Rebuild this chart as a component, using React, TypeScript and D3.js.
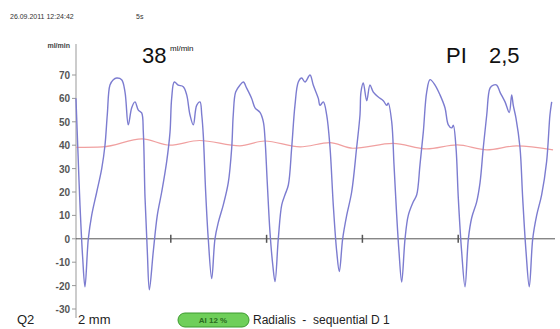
import React, { useEffect, useRef } from 'react';
import * as d3 from 'd3';

// flow velocity trace (time s, ml/min)
const flowT = [0.01, 0.03, 0.052, 0.08, 0.104, 0.139, 0.174, 0.227, 0.279, 0.313, 0.337, 0.365, 0.4, 0.435, 0.487, 0.522, 0.556, 0.592, 0.626, 0.661, 0.696, 0.713, 0.731, 0.755, 0.776, 0.817, 0.859, 0.905, 0.957, 0.992, 1.009, 1.037, 1.078, 1.13, 1.166, 1.2, 1.235, 1.27, 1.305, 1.323, 1.339, 1.364, 1.391, 1.427, 1.461, 1.496, 1.548, 1.6, 1.636, 1.652, 1.677, 1.722, 1.757, 1.792, 1.844, 1.879, 1.931, 1.966, 1.983, 2.007, 2.035, 2.064, 2.088, 2.122, 2.158, 2.192, 2.227, 2.262, 2.296, 2.331, 2.366, 2.401, 2.453, 2.487, 2.54, 2.557, 2.592, 2.627, 2.662, 2.696, 2.732, 2.759, 2.794, 2.836, 2.888, 2.94, 2.975, 2.985, 3.009, 3.045, 3.079, 3.114, 3.166, 3.218, 3.254, 3.27, 3.306, 3.33, 3.358, 3.382, 3.41, 3.445, 3.479, 3.531, 3.567, 3.601, 3.636, 3.671, 3.706, 3.758, 3.81, 3.862, 3.897, 3.932, 3.949, 3.977, 4.001, 4.036, 4.071, 4.106, 4.141, 4.193, 4.228, 4.262, 4.298, 4.332, 4.367, 4.402, 4.436, 4.489, 4.533, 4.558, 4.575, 4.603, 4.645, 4.673, 4.708, 4.742, 4.778, 4.819, 4.871, 4.923, 4.958, 4.976];
const flowV = [60, 38, 14.5, -8, -20.5, 0, 10, 20, 30, 40, 53, 65.7, 68, 68.7, 68, 62.7, 48.7, 56, 58.5, 55, 53.8, 45.7, 17.5, -5.5, -21.8, -5.5, 10, 20, 33, 45.7, 60, 67, 65.7, 65, 61.5, 53, 48.7, 57, 58.5, 53, 44.4, 20, 0, -17, 0, 7, 14.5, 24, 39, 53, 62.7, 65.7, 67, 64.4, 60, 56, 54, 50, 43, 24, 3, -11, -18.3, 0, 14.5, 18.8, 23, 39, 57, 67, 68.7, 67, 70, 65.7, 60, 57, 58.5, 53, 39, 14.5, -5.5, -14, 0, 10, 20, 39, 53, 62.7, 66.6, 59, 65.7, 62.7, 60.6, 59, 57, 58, 50, 31.6, 10, -5.5, -18.5, 0, 10, 15.8, 18.8, 31.6, 45.7, 62.7, 68, 65.7, 61.5, 56, 48.7, 47.4, 48.5, 39, 17.5, -5.5, -20.5, 0, 9, 15.8, 24, 39, 53, 64.4, 65.7, 65.7, 62.7, 58.5, 54, 61.5, 57, 51.6, 39, 17.5, -5.5, -20.5, 0, 10, 18.8, 33, 53, 58.5];

// mean velocity trace
const meanT = [0.01, 0.29, 0.7, 0.99, 1.3, 1.72, 1.98, 2.35, 2.66, 2.9, 3.32, 3.67, 3.99, 4.3, 4.61, 4.99];
const meanV = [39.1, 39.3, 42.7, 40, 42, 39.7, 41.8, 39.3, 41.1, 38.7, 40.8, 38.4, 40.1, 38, 39.7, 38];

const yTicks = [70, 60, 50, 40, 30, 20, 10, 0, -10, -20, -30];
const xTicks = [1, 2, 3, 4];

const App = () => {
  const svgRef = useRef<SVGSVGElement>(null);

  useEffect(() => {
    const svg = d3.select(svgRef.current);
    svg.selectAll('*').remove();
    const font = 'Liberation Sans, Arial, sans-serif';

    const x = d3.scaleLinear().domain([0, 5]).range([75, 554]);
    const y = d3.scaleLinear().domain([-30, 70]).range([309, 75]);

    // header
    svg.append('text').attr('x', 10).attr('y', 19).attr('font-size', 7).attr('fill', '#333')
      .attr('font-family', font).text('26.09.2011 12:24:42');
    svg.append('text').attr('x', 136).attr('y', 19).attr('font-size', 7).attr('fill', '#333')
      .attr('font-family', font).text('5s');

    svg.append('text').attr('x', 70).attr('y', 48).attr('text-anchor', 'end').attr('font-size', 7)
      .attr('font-weight', 'bold').attr('fill', '#444').attr('font-family', font).text('ml/min');

    svg.append('text').attr('x', 142).attr('y', 63).attr('font-size', 22).attr('fill', '#111')
      .attr('font-family', font).text('38');
    svg.append('text').attr('x', 170).attr('y', 51).attr('font-size', 8).attr('fill', '#111')
      .attr('font-family', font).text('ml/min');

    svg.append('text').attr('x', 446).attr('y', 63).attr('font-size', 22).attr('fill', '#111')
      .attr('font-family', font).text('PI');
    svg.append('text').attr('x', 489).attr('y', 63).attr('font-size', 22).attr('fill', '#111')
      .attr('font-family', font).text('2,5');

    // y axis
    svg.append('line').attr('x1', 76).attr('x2', 76).attr('y1', 44).attr('y2', 318)
      .attr('stroke', '#999').attr('stroke-width', 1);
    const yg = svg.append('g');
    yTicks.forEach(t => {
      yg.append('line').attr('x1', 72).attr('x2', 76).attr('y1', y(t)).attr('y2', y(t))
        .attr('stroke', '#999');
      yg.append('text').attr('x', 70).attr('y', y(t) + 4).attr('text-anchor', 'end')
        .attr('font-size', 10).attr('font-weight', 'bold').attr('fill', '#555')
        .attr('font-family', font).text(t);
    });

    // x axis (zero line)
    svg.append('line').attr('x1', 76).attr('x2', 555).attr('y1', y(0)).attr('y2', y(0))
      .attr('stroke', '#555').attr('stroke-width', 1);
    xTicks.forEach(t => {
      svg.append('line').attr('x1', x(t)).attr('x2', x(t)).attr('y1', y(0) - 4).attr('y2', y(0) + 4)
        .attr('stroke', '#555').attr('stroke-width', 1.5);
    });

    // mean line
    const meanLine = d3.line<number>().x((_, i) => x(meanT[i])).y(d => y(d)).curve(d3.curveMonotoneX);
    svg.append('path').datum(meanV).attr('d', meanLine).attr('fill', 'none')
      .attr('stroke', '#f0a0a0').attr('stroke-width', 1.2);

    // flow trace
    const flowLine = d3.line<number>().x((_, i) => x(flowT[i])).y(d => y(d)).curve(d3.curveCatmullRom);
    svg.append('path').datum(flowV).attr('d', flowLine).attr('fill', 'none')
      .attr('stroke', '#7c7cd0').attr('stroke-width', 1.4);

    // footer
    svg.append('text').attr('x', 17).attr('y', 324).attr('font-size', 13).attr('fill', '#222')
      .attr('font-family', font).text('Q2');
    svg.append('text').attr('x', 78).attr('y', 324).attr('font-size', 13).attr('fill', '#222')
      .attr('font-family', font).text('2 mm');
    svg.append('rect').attr('x', 178).attr('y', 313).attr('width', 71).attr('height', 14).attr('rx', 7)
      .attr('fill', '#6fcf5a').attr('stroke', '#3d9a2e').attr('stroke-width', 1);
    svg.append('text').attr('x', 213).attr('y', 323).attr('text-anchor', 'middle').attr('font-size', 8)
      .attr('font-weight', 'bold').attr('fill', '#2a6a20').attr('font-family', font).text('AI 12 %');
    svg.append('text').attr('x', 253).attr('y', 324).attr('font-size', 12).attr('fill', '#222')
      .attr('font-family', font).attr('xml:space', 'preserve')
      .text('Radialis\u00a0 -\u00a0 sequential D 1');
  }, []);

  return (
    <svg ref={svgRef} width={560} height={329}
      style={{ position: 'absolute', left: 0, top: 0, background: '#fff' }} />
  );
};

export default App;
